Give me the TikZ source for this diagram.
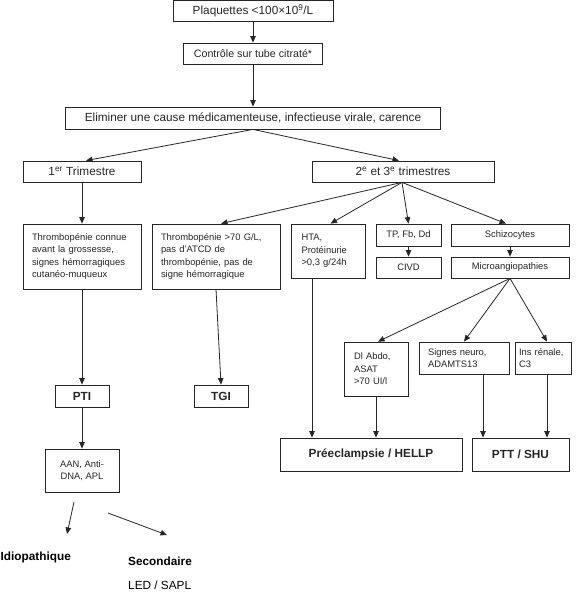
\documentclass[tikz,border=0pt]{standalone}
\usepackage{fontspec}
\setmainfont{Liberation Sans}
\usetikzlibrary{arrows.meta}

\begin{document}
\begin{tikzpicture}[x=1pt, y=-1pt,
  box/.style={draw=black!85, line width=0.8pt, inner sep=0pt, text=black!85, align=center, font=\fontsize{9.4}{12.6}\selectfont},
  bigbox/.style={box, font=\fontsize{11.8}{14}\selectfont},
  boldbox/.style={box, font=\fontsize{11.8}{14}\selectfont\bfseries},
  leftbox/.style={box, align=left},
  arr/.style={draw=black!85, line width=0.8pt, -{Triangle[length=6.5pt,width=5.5pt]}}]
\useasboundingbox (0,0) rectangle (580,594);

% Top of the chart
\node[bigbox, minimum width=160pt, minimum height=21pt] (plaq) at (253,11) {Plaquettes <100×10\textsuperscript{9}/L};
\node[box, font=\fontsize{10.7}{13}\selectfont, minimum width=139pt, minimum height=21pt] (contr) at (253,53.5) {Contrôle sur tube citraté*};
\node[bigbox, minimum width=375pt, minimum height=22pt] (elim) at (253,118) {Eliminer une cause médicamenteuse, infectieuse virale, carence};

% Trimesters
\node[bigbox, minimum width=118pt, minimum height=21pt] (trim1) at (82,171.5) {1\textsuperscript{er} Trimestre};
\node[bigbox, minimum width=182pt, minimum height=21pt] (trim23) at (403,171.5) {2\textsuperscript{e} et 3\textsuperscript{e} trimestres};

% Criteria
\node[leftbox, inner xsep=9pt, text width=100pt, minimum height=65pt] (connue) at (82,256.5) {Thrombopénie connue\\avant la grossesse,\\signes hémorragiques\\cutanéo-muqueux};
\node[leftbox, inner xsep=9pt, text width=110pt, minimum height=65pt] (crit) at (216,256.5) {Thrombopénie >70 G/L,\\pas d'ATCD de\\thrombopénie, pas de\\signe hémorragique};
\node[leftbox, inner xsep=10pt, text width=54pt, minimum height=54pt] (hta) at (328.5,251) {HTA,\\Protéinurie\\>0,3 g/24h};
\node[box, minimum width=65pt, minimum height=22pt] (tp) at (408.5,235) {TP, Fb, Dd};
\node[box, minimum width=65pt, minimum height=21pt] (civd) at (408.5,267.5) {CIVD};
\node[box, minimum width=118pt, minimum height=22pt] (schizo) at (510,235) {Schizocytes};
\node[box, minimum width=118pt, minimum height=21pt] (micro) at (510,267.5) {Microangiopathies};

% Microangiopathy signs
\node[leftbox, inner xsep=10pt, text width=44pt, minimum height=54pt] (abdo) at (376,369) {Dl Abdo,\\ASAT\\>70 UI/l};
\node[leftbox, inner xsep=9pt, text width=72pt, minimum height=32pt] (neuro) at (464,358) {Signes neuro,\\ADAMTS13};
\node[leftbox, inner xsep=4pt, text width=48pt, minimum height=32pt] (renal) at (543,358) {Ins rénale,\\C3};

% Diagnoses
\node[boldbox, minimum width=54pt, minimum height=22pt] (pti) at (82,396) {PTI};
\node[boldbox, minimum width=54pt, minimum height=22pt] (tgi) at (221,396) {TGI};
\node[boldbox, minimum width=182pt, minimum height=33pt] (pree) at (371,454.5) {Préeclampsie / HELLP};
\node[boldbox, minimum width=97pt, minimum height=33pt] (ptt) at (520.5,454.5) {PTT / SHU};
\node[box, minimum width=74pt, minimum height=43pt] (aan) at (82,470.5) {AAN, Anti-\\DNA, APL};

% PTI outcomes
\node[font=\fontsize{11.8}{14}\selectfont\bfseries, anchor=west, inner sep=0pt] (idio) at (0.5,557) {Idiopathique};
\node[font=\fontsize{11.8}{14}\selectfont\bfseries, anchor=west, inner sep=0pt] (second) at (128,561) {Secondaire};
\node[font=\fontsize{11.8}{14}\selectfont, anchor=west, inner sep=0pt] (led) at (128,585) {LED / SAPL};
\coordinate (idio-a) at (74,502);
\coordinate (idio-b) at (67,534);
\coordinate (sec-a) at (108,513);
\coordinate (sec-b) at (167,535);

% Arrows
\draw[arr] (plaq) -- (contr);
\draw[arr] (contr) -- (elim);
\draw[arr] (elim.south) -- ([xshift=4pt]trim1.north);
\draw[arr] (elim.south) -- ([xshift=-4pt]trim23.north);
\draw[arr] (trim1) -- (connue);
\draw[arr] ([xshift=-1pt]trim23.south) -- ([xshift=5pt]crit.north);
\draw[arr] ([xshift=-1pt]trim23.south) -- ([xshift=2pt]hta.north);
\draw[arr] ([xshift=-1pt]trim23.south) -- (tp.north);
\draw[arr] ([xshift=-1pt]trim23.south) -- ([xshift=-4pt]schizo.north);
\draw[arr] (tp) -- (civd);
\draw[arr] (schizo) -- (micro);
\draw[arr] (micro.south) -- ([xshift=2pt]abdo.north);
\draw[arr] (micro.south) -- (neuro.north);
\draw[arr] (micro.south) -- ([xshift=4pt]renal.north);
\draw[arr] (connue) -- (pti);
\draw[arr] (crit.south) -- (tgi.north);
\draw[arr] ([xshift=-16.5pt]hta.south) -- ([xshift=-16.5pt]hta.south |- pree.north);
\draw[arr] (abdo.south) -- (abdo.south |- pree.north);
\draw[arr] ([xshift=19pt]neuro.south) -- ([xshift=19pt]neuro.south |- ptt.north);
\draw[arr] ([xshift=4pt]renal.south) -- ([xshift=4pt]renal.south |- ptt.north);
\draw[arr] (pti) -- (aan);
\draw[arr] (idio-a) -- (idio-b);
\draw[arr] (sec-a) -- (sec-b);

\end{tikzpicture}
\end{document}
